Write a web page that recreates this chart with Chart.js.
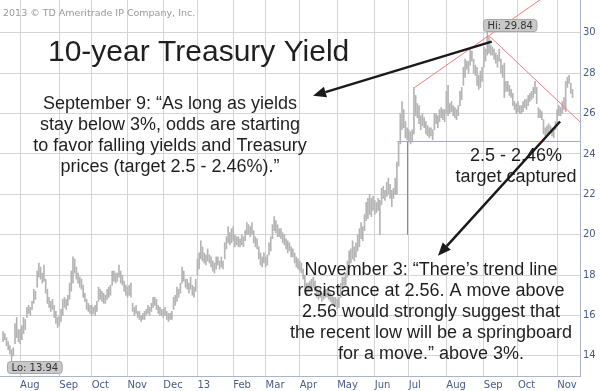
<!DOCTYPE html>
<html lang="en">
<head>
<meta charset="UTF-8">
<title>10-year Treasury Yield</title>
<script src="https://cdn.jsdelivr.net/npm/chart.js"></script>
<style>
  body { margin: 0; background: #fff; }
  #wrap { position: relative; width: 600px; height: 391px; }
</style>
</head>
<body>
<div id="wrap"><canvas id="chart"></canvas></div>
<script>
// daily bars, index 0 = Jul 18 2012 (TNX, yield x10)
const lows = [
  14.7,14.8,14.5,14.3,14.1,13.94,14.0,14.6,14.9,14.7,
  14.6,14.8,15.1,15.3,15.9,16.1,16.0,16.3,16.6,16.8,17.4,17.9,17.8,17.6,17.7,17.1,16.6,16.4,16.2,16.3,15.9,15.6,15.4,
  15.5,15.7,16.0,16.4,16.3,16.5,16.8,17.2,17.6,18.1,17.8,17.6,17.4,17.3,16.9,16.7,16.3,16.2,16.1,
  16.0,16.1,16.0,16.2,16.7,16.8,16.7,16.6,16.6,16.8,16.9,17.0,17.5,17.7,17.6,17.7,17.9,17.6,17.5,17.2,17.0,
  16.9,17.0,16.9,16.2,16.0,16.1,15.9,15.8,15.7,15.8,15.8,16.0,16.1,16.0,16.2,16.4,16.5,16.3,16.1,16.0,16.0,
  15.9,16.0,15.8,15.7,15.8,15.8,16.3,16.5,16.7,16.9,17.1,17.6,17.7,17.4,17.3,17.1,17.3,17.0,16.9,17.2,
  18.0,18.3,18.8,18.7,18.6,18.5,18.7,18.6,18.4,18.2,18.1,18.3,18.5,18.3,18.4,18.3,18.8,19.3,19.6,19.5,19.6,
  19.7,19.4,19.5,19.4,19.4,19.5,19.4,19.7,20.0,20.0,19.9,20.0,19.6,19.4,19.3,18.8,18.5,18.4,18.6,
  18.4,18.5,19.0,19.2,19.8,20.2,20.1,19.9,19.9,19.8,19.6,19.5,19.3,19.1,19.2,18.9,18.9,18.6,18.4,18.3,
  18.2,18.1,17.8,17.4,17.0,17.2,17.2,17.3,17.4,17.2,16.9,16.8,16.9,16.7,16.8,16.9,16.9,16.8,16.7,16.6,16.5,16.5,
  16.3,16.4,16.9,17.3,17.5,17.5,17.9,18.4,18.6,18.8,18.7,18.9,19.2,19.4,19.8,19.7,20.2,20.7,20.8,21.0,20.9,21.2,
  21.0,21.1,21.2,20.0,21.5,21.8,21.7,21.9,22.0,21.8,21.4,21.8,22.0,22.0,23.4,24.5,25.2,25.3,24.8,24.7,
  24.6,24.5,24.6,25.0,25.9,25.8,25.5,25.2,25.4,25.3,25.0,24.9,24.8,24.9,24.7,25.2,25.5,25.3,25.6,25.8,25.7,25.6,
  26.0,25.9,26.0,26.1,25.9,25.8,25.7,25.9,26.4,26.7,27.4,27.8,28.2,28.0,28.4,28.6,28.0,27.9,27.4,27.2,27.3,27.6,
  28.3,28.6,28.9,29.0,28.9,28.9,28.7,28.5,28.3,28.6,28.0,27.8,26.8,27.1,27.1,26.9,26.8,26.4,26.2,26.0,
  26.1,26.0,26.0,26.1,26.3,26.2,26.4,26.6,26.7,26.8,27.0,26.5,25.8,25.8,25.7,25.0,24.9,25.0,25.0,25.1,24.9,24.8,25.2,
  25.4,25.9,25.9,26.0,26.2,26.1,27.3,27.5,27.0,26.8
];
const highs = [
  15.2,15.1,14.9,14.7,14.5,14.3,14.4,15.6,15.9,15.3,
  15.3,15.5,15.9,15.8,16.4,16.5,16.4,16.7,17.3,17.2,18.2,18.6,18.4,18.1,18.5,17.8,17.3,16.9,16.7,16.8,16.5,16.2,15.9,
  16.0,16.3,16.8,16.9,16.8,17.0,17.6,18.2,18.9,18.8,18.4,18.1,17.9,17.8,17.5,17.1,16.8,16.6,16.5,
  16.5,16.4,16.5,16.7,17.4,17.3,17.2,17.1,17.0,17.3,17.4,17.5,18.2,18.2,18.1,18.1,18.5,18.2,18.0,17.7,17.5,
  17.4,17.5,17.6,16.6,16.4,16.5,16.2,16.2,16.0,16.1,16.2,16.3,16.5,16.4,16.6,16.9,16.9,16.8,16.5,16.4,16.3,
  16.3,16.4,16.2,16.1,16.1,16.2,16.9,17.0,17.4,17.3,17.6,18.4,18.2,17.8,17.8,17.6,17.9,17.5,17.4,17.8,
  18.8,19.1,19.7,19.4,19.1,19.0,19.3,19.0,18.9,18.7,18.6,18.9,18.9,18.7,18.9,18.7,19.6,19.9,20.4,20.1,20.3,
  20.4,20.0,19.9,19.9,19.8,20.0,19.9,20.2,20.6,20.5,20.4,20.6,20.2,19.9,19.8,19.4,19.1,18.9,19.1,
  18.9,19.0,19.6,19.9,20.5,20.9,20.7,20.5,20.3,20.3,20.1,20.0,19.8,19.7,19.6,19.4,19.3,19.1,18.9,18.8,
  18.7,18.6,18.3,18.0,17.6,17.6,17.7,17.8,17.9,17.7,17.4,17.2,17.3,17.1,17.2,17.3,17.3,17.2,17.1,17.0,16.9,16.9,
  16.8,16.9,17.6,17.9,17.9,18.1,18.7,19.2,19.3,19.7,19.4,19.6,20.0,20.3,20.6,20.4,21.0,21.6,21.8,22.0,21.8,21.9,
  21.7,21.6,21.8,21.7,22.3,22.4,22.2,22.6,22.8,22.5,22.2,22.3,22.8,23.6,24.6,26.0,26.6,26.2,25.6,25.3,
  25.2,25.1,25.2,27.3,26.9,26.5,26.4,25.9,26.0,25.8,25.6,25.4,25.3,25.3,25.2,26.0,26.0,25.9,26.2,26.3,26.2,26.2,
  27.1,27.4,26.5,26.6,26.4,26.3,26.2,26.4,27.1,27.3,28.3,28.7,28.6,28.6,29.2,29.1,28.7,28.4,28.3,27.9,28.1,28.3,
  29.3,29.2,29.84,29.8,29.4,29.3,29.2,29.0,28.9,29.2,28.7,28.4,28.5,27.6,27.6,27.4,27.2,27.0,26.6,26.5,
  26.6,26.4,26.4,26.6,26.7,26.7,26.9,27.0,27.1,27.3,27.6,27.3,26.3,26.2,26.1,25.7,25.3,25.4,25.5,25.4,25.3,25.2,25.6,
  26.2,26.4,26.3,26.6,26.8,27.6,27.8,27.9,27.5,27.2
];
const monthStarts = [10, 33, 52, 73, 94, 114, 135, 154, 174, 196, 218, 238, 260, 282, 302, 325];
const monthLabels = ['Aug', 'Sep', 'Oct', 'Nov', 'Dec', '13', 'Feb', 'Mar', 'Apr', 'May', 'Jun', 'Jul', 'Aug', 'Sep', 'Oct', 'Nov'];
const yTicks = [14, 16, 18, 20, 22, 24, 26, 28, 30];
const hiValue = 29.84, hiIndex = 284;
const loValue = 13.94, loIndex = 5;
const targetLevel = 24.62;

const bars = highs.map((h, i) => ({ x: i, y: [lows[i], h] }));

function arrow(ctx, x1, y1, x2, y2) {
    const a = Math.atan2(y2 - y1, x2 - x1);
    const len = 13, half = 5.5;
    const bx = x2 - len * Math.cos(a), by = y2 - len * Math.sin(a);
    ctx.beginPath();
    ctx.moveTo(x1, y1);
    ctx.lineTo(bx, by);
    ctx.stroke();
    ctx.beginPath();
    ctx.moveTo(x2, y2);
    ctx.lineTo(bx + half * Math.sin(a), by - half * Math.cos(a));
    ctx.lineTo(bx - half * Math.sin(a), by + half * Math.cos(a));
    ctx.closePath();
    ctx.fill();
}

function tag(ctx, text, left, top) {
    ctx.font = '10px "DejaVu Sans"';
    const w = ctx.measureText(text).width + 8;
    ctx.fillStyle = '#c8c8c8';
    ctx.strokeStyle = '#a8a8a8';
    ctx.lineWidth = 1;
    ctx.beginPath();
    ctx.roundRect(left + 0.5, top + 0.5, w, 12, 3);
    ctx.fill();
    ctx.stroke();
    ctx.fillStyle = '#333';
    ctx.textAlign = 'left';
    ctx.textBaseline = 'middle';
    ctx.fillText(text, left + 4.5, top + 7);
}

function lines(ctx, arr, cx, base, step) {
    arr.forEach((t, k) => ctx.fillText(t, cx, base + k * step));
}

const notes = {
    id: 'notes',
    afterDatasetsDraw(chart) {
        const { ctx, chartArea: area, scales: { x, y } } = chart;
        const px = v => x.getPixelForValue(v), py = v => y.getPixelForValue(v);
        ctx.save();

        // trend lines, clipped to plot
        ctx.save();
        ctx.beginPath();
        ctx.rect(area.left, area.top, area.right - area.left, area.bottom - area.top);
        ctx.clip();
        ctx.lineWidth = 1;
        ctx.strokeStyle = '#f27c7c';
        const m1 = (hiValue - 27.3) / (hiIndex + 0.5 - 241.5);
        ctx.beginPath();
        ctx.moveTo(px(241.5), py(27.3));
        ctx.lineTo(px(340), py(27.3 + m1 * (340 - 241.5)));
        ctx.stroke();
        const m2 = (25.59 - hiValue) / (338.4 - 285.3);
        ctx.beginPath();
        ctx.moveTo(px(285.3), py(hiValue));
        ctx.lineTo(px(345), py(hiValue + m2 * (345 - 285.3)));
        ctx.stroke();
        ctx.strokeStyle = '#86c986';
        ctx.beginPath();
        ctx.moveTo(px(231.2), Math.round(py(targetLevel)) + 0.5);
        ctx.lineTo(area.right, Math.round(py(targetLevel)) + 0.5);
        ctx.stroke();
        ctx.strokeStyle = '#8a8a8a';
        ctx.beginPath();
        ctx.moveTo(Math.round(px(236.9)) + 0.5, py(targetLevel));
        ctx.lineTo(Math.round(px(236.9)) + 0.5, py(20.0));
        ctx.stroke();
        ctx.restore();

        // text
        ctx.fillStyle = '#999';
        ctx.font = '9.5px "DejaVu Sans"';
        ctx.textAlign = 'left';
        ctx.textBaseline = 'alphabetic';
        ctx.fillText('2013 \u00a9 TD Ameritrade IP Company, Inc.', 3, 15.5);

        ctx.fillStyle = '#1f1f1f';
        ctx.font = '30px "Liberation Sans", Arial, sans-serif';
        ctx.fillText('10-year Treasury Yield', 48, 61);

        ctx.textAlign = 'center';
        ctx.font = '18px "Liberation Sans", Arial, sans-serif';
        lines(ctx, ['September 9: \u201cAs long as yields', 'stay below 3%, odds are starting',
            'to favor falling yields and Treasury', 'prices (target 2.5 - 2.46%).\u201d'], 170, 108.5, 21.3);
        lines(ctx, ['2.5 - 2.46%', 'target captured'], 516, 160.5, 21.3);
        lines(ctx, ['November 3: \u201cThere\u2019s trend line', 'resistance at 2.56. A move above',
            '2.56 would strongly suggest that', 'the recent low will be a springboard',
            'for a move.\u201d above 3%.'], 431, 275, 21.1);

        // arrows
        ctx.strokeStyle = '#1a1a1a';
        ctx.fillStyle = '#1a1a1a';
        ctx.lineWidth = 2.5;
        arrow(ctx, px(286.6), py(29.57), px(181.8), py(26.88));
        arrow(ctx, px(326.7), py(25.61), px(255.1), py(18.96));

        // hi / lo tags
        const hx = px(hiIndex), hy = py(hiValue);
        const lx = px(loIndex), ly = py(loValue);
        ctx.strokeStyle = '#999';
        ctx.lineWidth = 1;
        ctx.beginPath();
        ctx.moveTo(hx, hy); ctx.lineTo(hx, hy - 5);
        ctx.moveTo(lx, ly); ctx.lineTo(lx, ly + 5);
        ctx.stroke();
        tag(ctx, 'Hi: ' + hiValue.toFixed(2), Math.round(hx - 4), Math.round(hy - 17));
        tag(ctx, 'Lo: ' + loValue.toFixed(2), Math.round(lx - 5), Math.round(ly + 4));
        ctx.restore();
    }
};

const grid = { color: '#d4d4d4', borderDash: [1, 2], drawTicks: false, offset: false };
const tickFont = { family: 'DejaVu Sans', size: 10 };

new Chart(document.getElementById('chart'), {
    type: 'bar',
    data: {
        datasets: [{
            data: bars,
            backgroundColor: '#b4b4b4',
            barThickness: 1,
            borderWidth: 0
        }]
    },
    options: {
        responsive: true,
        maintainAspectRatio: false,
        animation: false,
        layout: { padding: 0 },
        plugins: { legend: { display: false }, tooltip: { enabled: false } },
        scales: {
            x: {
                type: 'linear',
                offset: false,
                min: -1.8,
                max: 338.4,
                grid: grid,
                border: { color: '#aab3c8' },
                ticks: {
                    font: tickFont, color: '#4a5a88', padding: 3, align: 'start', maxRotation: 0,
                    callback: v => monthLabels[monthStarts.indexOf(v)] || ''
                },
                afterBuildTicks: s => { s.ticks = monthStarts.map(v => ({ value: v })); },
                afterFit: s => { s.height = 15; s.paddingLeft = 0; s.paddingRight = 0; }
            },
            y: {
                position: 'right',
                min: 13.0,
                max: 31.63,
                grid: grid,
                border: { color: '#aab3c8' },
                ticks: { font: tickFont, color: '#4a5a88', padding: 3 },
                afterBuildTicks: s => { s.ticks = yTicks.map(v => ({ value: v })); },
                afterFit: s => { s.width = 20; s.paddingTop = 0; s.paddingBottom = 0; }
            }
        }
    },
    plugins: [notes]
});
</script>
</body>
</html>
